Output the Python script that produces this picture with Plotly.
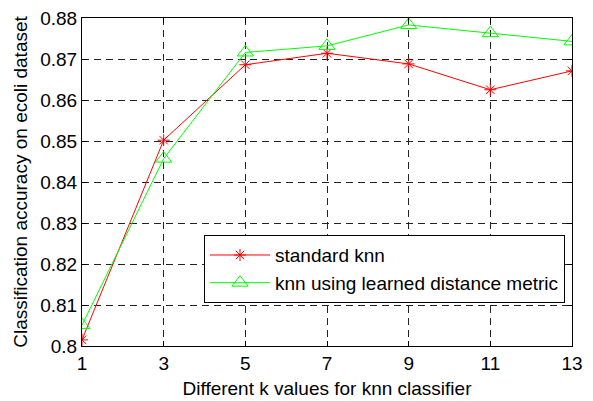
import plotly.graph_objects as go

k_values = [1, 3, 5, 7, 9, 11, 13]
standard_knn = [0.8015, 0.8502, 0.8686, 0.8714, 0.8688, 0.8625, 0.8671]
learned_knn = [0.8051, 0.8457, 0.8716, 0.8732, 0.8783, 0.8763, 0.8743]
y_ticks = [0.80, 0.81, 0.82, 0.83, 0.84, 0.85, 0.86, 0.87, 0.88]
y_tick_labels = ["0.8", "0.81", "0.82", "0.83", "0.84", "0.85", "0.86", "0.87", "0.88"]

FONT = "Liberation Sans, Arial, sans-serif"
FS = 19

fig = go.Figure()
fig.add_trace(go.Scatter(
    x=k_values, y=standard_knn, mode="lines+markers", name="standard knn",
    line=dict(color="#ff0000", width=1),
    marker=dict(symbol="asterisk-open", size=10, color="#ff0000", line=dict(color="#ff0000", width=1)),
))
fig.add_trace(go.Scatter(
    x=k_values, y=learned_knn, mode="lines+markers", name="knn using learned distance metric",
    line=dict(color="#00ff00", width=1),
    marker=dict(symbol="triangle-up-open", size=14, color="#00ff00", line=dict(color="#00ff00", width=1)),
))

axis_common = dict(
    showline=True, linecolor="black", linewidth=1, mirror="ticks",
    ticks="inside", ticklen=5, tickcolor="black",
    showgrid=True, gridcolor="#222222", gridwidth=1, griddash="7px,5px",
    zeroline=False, tickfont=dict(family=FONT, size=FS, color="black"),
)

fig.update_xaxes(
    range=[1, 13], tickvals=k_values, ticktext=[str(v) for v in k_values],
    title=dict(text="Different k values for knn classifier", font=dict(family=FONT, size=FS, color="black"), standoff=8),
    **axis_common,
)
fig.update_yaxes(
    range=[0.80, 0.88], tickvals=y_ticks, ticktext=y_tick_labels,
    title=dict(text="Classification accuracy on ecoli dataset", font=dict(family=FONT, size=FS, color="black"), standoff=7),
    **axis_common,
)

fig.update_layout(
    width=593, height=401,
    margin=dict(l=82, r=21, t=18, b=55, autoexpand=False),
    plot_bgcolor="white", paper_bgcolor="white",
    showlegend=True,
    legend=dict(
        x=0.249, y=0.338, xanchor="left", yanchor="top",
        bgcolor="white", bordercolor="black", borderwidth=1,
        font=dict(family=FONT, size=FS, color="black"),
        tracegroupgap=0, itemwidth=60,
    ),
)

fig.write_html("out.html", config={"displayModeBar": False},
               post_script="document.body.style.margin='0';")
